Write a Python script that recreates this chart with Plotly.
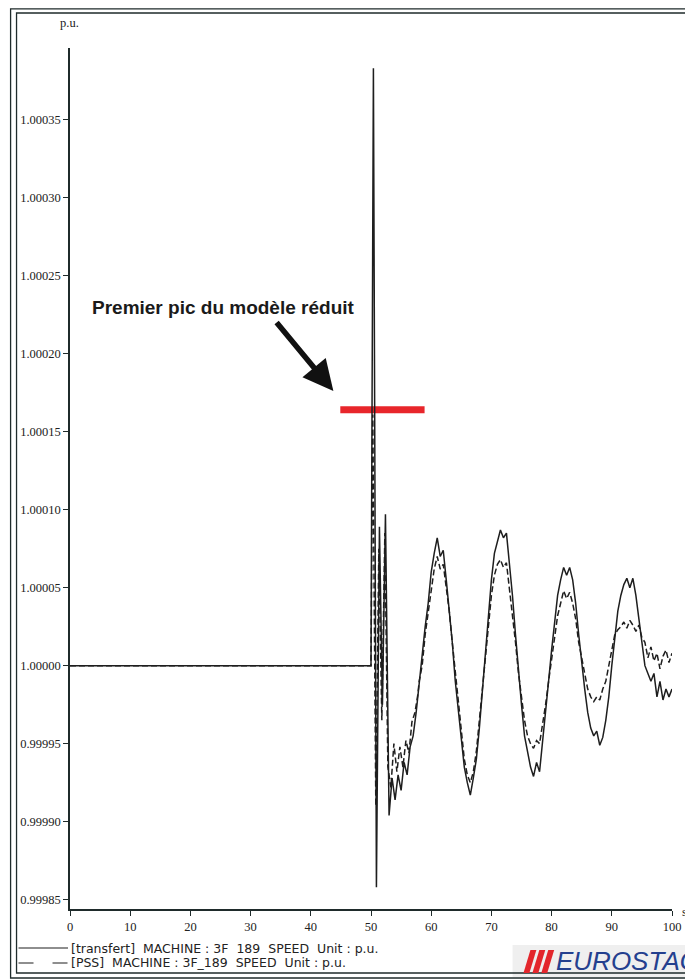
"""
EUROSTAG machine speed after the disturbance: reduced model vs PSS.
"""

import plotly.graph_objects as go

# series names (legend text)
names = [
    "[transfert]  MACHINE : 3F  189  SPEED  Unit : p.u.",
    "[PSS]  MACHINE : 3F_189  SPEED  Unit : p.u.",
]

# time axis (s) and speed deviation in 1e-5 p.u.
t_transfert = [
    0, 50.0, 50.4, 50.9, 51.4, 51.9, 52.4, 53.0, 53.5, 54.0, 54.5, 55.0,
    55.5, 56.0, 56.5, 57.0, 57.5, 58.0, 58.5, 59.0, 59.5, 60.0, 60.5, 61.0,
    61.5, 62.0, 62.5, 63.0, 63.5, 64.0, 64.5, 65.0, 65.5, 66.0, 66.5, 67.0,
    67.5, 68.0, 68.5, 69.0, 69.5, 70.0, 70.5, 71.0, 71.5, 72.0, 72.5, 73.0,
    73.5, 74.0, 74.5, 75.0, 75.5, 76.0, 76.5, 77.0, 77.5, 78.0, 78.5, 79.0,
    79.5, 80.0, 80.5, 81.0, 81.5, 82.0, 82.5, 83.0, 83.5, 84.0, 84.5, 85.0,
    85.5, 86.0, 86.5, 87.0, 87.5, 88.0, 88.5, 89.0, 89.5, 90.0, 90.5, 91.0,
    91.5, 92.0, 92.5, 93.0, 93.5, 94.0, 94.5, 95.0, 95.5, 96.0, 96.5, 97.0,
    97.5, 98.0, 98.5, 99.0, 99.5, 100.0,
]
dev_transfert = [
    0, 0, 38.3, -14.2, 8.9, -2.5, 9.7, -9.6, -7.2, -8.6, -7.0, -8.0,
    -6.2, -7.0, -5.2, -4.5, -3.0, -1.0, 0.5, 2.5, 4.0, 6.0, 7.2, 8.2,
    7.0, 7.4, 5.5, 3.5, 1.5, -1.0, -3.0, -5.0, -6.5, -7.5, -8.3, -7.2,
    -6.0, -4.0, -1.5, 1.0, 3.5, 5.5, 7.2, 8.0, 8.7, 8.2, 8.5, 6.5,
    4.5, 2.0, -0.5, -2.5, -4.5, -5.5, -6.5, -7.1, -6.2, -6.8, -5.0, -3.0,
    -1.0, 1.0, 3.0, 4.5, 5.5, 6.3, 5.8, 6.3, 5.5, 4.0, 2.0, 0.0,
    -1.5, -3.0, -4.0, -4.5, -4.2, -5.1, -4.6, -3.5, -2.0, 0.0, 2.0, 3.5,
    4.5, 5.2, 5.6, 5.0, 5.6, 4.5, 3.0, 1.5, 0.0, -0.5, -1.0, -0.5,
    -2.0, -1.0, -2.2, -1.5, -2.0, -1.5,
]

t_pss = [
    0, 50.0, 50.3, 50.8, 51.3, 51.8, 52.3, 52.8, 53.3, 53.8, 54.3, 54.8,
    55.3, 55.8, 56.3, 56.8, 57.3, 57.8, 58.0, 58.5, 59.0, 59.5, 60.0, 60.5,
    61.0, 61.5, 62.0, 62.5, 63.0, 63.5, 64.0, 64.5, 65.0, 65.5, 66.0, 66.5,
    67.0, 67.5, 68.0, 68.5, 69.0, 69.5, 70.0, 70.5, 71.0, 71.5, 72.0, 72.5,
    73.0, 73.5, 74.0, 74.5, 75.0, 75.5, 76.0, 76.5, 77.0, 77.5, 78.0, 78.5,
    79.0, 79.5, 80.0, 80.5, 81.0, 81.5, 82.0, 82.5, 83.0, 83.5, 84.0, 84.5,
    85.0, 85.5, 86.0, 86.5, 87.0, 87.5, 88.0, 88.5, 89.0, 89.5, 90.0, 90.5,
    91.0, 91.5, 92.0, 92.5, 93.0, 93.5, 94.0, 94.5, 95.0, 95.5, 96.0, 96.5,
    97.0, 97.5, 98.0, 98.5, 99.0, 99.5, 100.0,
]
dev_pss = [
    0, 0, 16.1, -9.0, 7.5, -3.5, 8.5, -6.5, -7.8, -5.0, -6.8, -5.2,
    -6.5, -4.8, -5.6, -3.6, -3.0, -1.8, -1.0, 0.0, 2.0, 3.5, 5.0, 6.2,
    7.0, 6.2, 6.5, 5.0, 3.5, 1.5, -0.5, -2.5, -4.5, -6.0, -7.0, -7.5,
    -6.8, -5.5, -3.5, -1.5, 0.5, 2.5, 4.5, 5.8, 6.5, 6.8, 6.3, 6.6,
    5.0, 3.5, 1.5, -0.5, -2.0, -3.5, -4.5, -5.0, -5.3, -4.8, -5.0, -3.8,
    -2.5, -1.0, 0.5, 2.0, 3.2, 4.0, 4.8, 4.3, 4.7, 4.0, 3.0, 1.5,
    0.5, -0.5, -1.5, -2.0, -2.3, -2.0, -2.2, -1.5, -1.0, 0.0, 1.0, 2.0,
    2.3, 2.5, 2.8, 2.4, 2.9, 2.6, 2.2, 2.6, 1.8, 1.5, 0.5, 1.2,
    0.3, 0.8, -0.2, 0.6, 1.0, 0.2, 0.8,
]

x_ticks = [0, 10, 20, 30, 40, 50, 60, 70, 80, 90, 100]
y_ticks = [0.99985, 0.99990, 0.99995, 1.00000, 1.00005, 1.00010,
           1.00015, 1.00020, 1.00025, 1.00030, 1.00035]
y_ticktext = ["0.99985", "0.99990", "0.99995", "1.00000", "1.00005",
              "1.00010", "1.00015", "1.00020", "1.00025", "1.00030",
              "1.00035"]

# first peak of the reduced model (red marker)
peak_level = 1.000164
peak_span = [44.9, 58.9]

LINE = "#1e1e1e"
FRAME = "#1f2b2b"
TICK_FONT = dict(family="Liberation Serif", size=12.5, color="#222")

# the page body keeps its 8px margin, so the figure is a bit smaller
PAGE_OFFSET = 8
PLOT_W = 608          # px from x=0 to x=100
PLOT_H = 861          # px of the y range
PLOT_LEFT, PLOT_BOTTOM = 70, 909   # screen position of the axes corner


def px(x):
    """Screen x pixel -> paper x."""
    return (x - PLOT_LEFT) / PLOT_W


def py(y):
    """Screen y pixel -> paper y."""
    return (PLOT_BOTTOM - y) / PLOT_H


speed_transfert = [1 + d * 1e-5 for d in dev_transfert]
speed_pss = [1 + d * 1e-5 for d in dev_pss]

fig = go.Figure()

fig.add_trace(
    go.Scatter(
        x=t_transfert,
        y=speed_transfert,
        mode="lines",
        name=names[0],
        line=dict(color=LINE, width=1.5),
    )
)
fig.add_trace(
    go.Scatter(
        x=t_pss,
        y=speed_pss,
        mode="lines",
        name=names[1],
        line=dict(color=LINE, width=1.5, dash="6px,3px"),
    )
)

# red bar marking the first peak, drawn under the curves
fig.add_shape(
    type="line",
    xref="x",
    yref="y",
    x0=peak_span[0],
    x1=peak_span[1],
    y0=peak_level,
    y1=peak_level,
    line=dict(color="#e8262b", width=7),
    layer="below",
)

# double frame around the whole plot window
for left, top, bottom in [(10, 8.8, 978), (16, 13, 973)]:
    fig.add_shape(
        type="rect",
        xref="paper",
        yref="paper",
        x0=px(left),
        x1=px(720),
        y0=py(bottom),
        y1=py(top),
        line=dict(color=FRAME, width=1.3),
    )

# logo backdrop
fig.add_shape(
    type="rect",
    xref="paper",
    yref="paper",
    x0=px(517),
    x1=px(720),
    y0=py(977),
    y1=py(945),
    fillcolor="#efefef",
    line=dict(width=0),
    layer="below",
)

# logo: three slanted red bars
for i in range(3):
    b = 528 + i * 9
    path = (
        f"M {px(b)},{py(973)} L {px(b + 6)},{py(973)} "
        f"L {px(b + 13)},{py(950)} L {px(b + 7)},{py(950)} Z"
    )
    fig.add_shape(
        type="path",
        xref="paper",
        yref="paper",
        path=path,
        fillcolor="#e3262c",
        line=dict(width=0),
    )

# hand-made legend: line samples + text
legend_rows = [py(948), py(963)]
fig.add_shape(
    type="line", xref="paper", yref="paper",
    x0=px(18), x1=px(68), y0=legend_rows[0], y1=legend_rows[0],
    line=dict(color=LINE, width=1.2),
)
fig.add_shape(
    type="line", xref="paper", yref="paper",
    x0=px(18), x1=px(68), y0=legend_rows[1], y1=legend_rows[1],
    line=dict(color=LINE, width=1.2, dash="15px,19px"),
)
for row, label in zip(legend_rows, names):
    fig.add_annotation(
        xref="paper", yref="paper", x=px(69), y=row,
        xanchor="left", yanchor="middle", showarrow=False,
        text=label,
        font=dict(family="DejaVu Sans", size=12.5, color="#222"),
    )

fig.add_annotation(
    xref="paper", yref="paper", x=px(225), y=py(307),
    xanchor="center", yanchor="middle",
    text="<b>Premier pic du modèle réduit</b>", showarrow=False,
    font=dict(family="Liberation Sans", size=19, color="#1a1a1a"),
)
fig.add_annotation(
    xref="paper", yref="paper", x=px(336), y=py(391),
    ax=-58, ay=-70, text="", showarrow=True,
    arrowhead=2, arrowsize=1.1, arrowwidth=5.5, arrowcolor="#111",
)

fig.add_annotation(
    xref="paper", yref="paper", x=px(69), y=py(23),
    xanchor="center", yanchor="middle",
    text="p.u.", showarrow=False, font=TICK_FONT,
)
fig.add_annotation(
    xref="paper", yref="paper", x=px(686), y=py(912),
    xanchor="left", yanchor="middle",
    text="s", showarrow=False, font=TICK_FONT,
)

# logo lettering
fig.add_annotation(
    xref="paper", yref="paper", x=px(559), y=py(961),
    xanchor="left", yanchor="middle", text="<i>EUROSTAG</i>",
    showarrow=False,
    font=dict(family="Liberation Sans", size=26, color="#24408e"),
)

fig.update_layout(
    width=693 - PAGE_OFFSET,
    height=980 - PAGE_OFFSET,
    margin=dict(
        l=PLOT_LEFT - PAGE_OFFSET,
        r=693 - PLOT_LEFT - PLOT_W,
        t=48 - PAGE_OFFSET,
        b=980 - PLOT_BOTTOM,
    ),
    paper_bgcolor="white",
    plot_bgcolor="white",
    showlegend=False,
)
fig.update_xaxes(
    range=[0, 100],
    tickvals=x_ticks,
    ticks="outside",
    ticklen=5,
    tickcolor=FRAME,
    tickfont=TICK_FONT,
    showgrid=False,
    zeroline=False,
    showline=True,
    linecolor=FRAME,
    linewidth=1.5,
)
fig.update_yaxes(
    range=[0.999844, 1.000396],
    tickvals=y_ticks,
    ticktext=y_ticktext,
    ticks="outside",
    ticklen=5,
    tickcolor=FRAME,
    tickfont=TICK_FONT,
    showgrid=False,
    zeroline=False,
    showline=True,
    linecolor=FRAME,
    linewidth=1.5,
)

fig.write_html("out.html", config={"displayModeBar": False})
